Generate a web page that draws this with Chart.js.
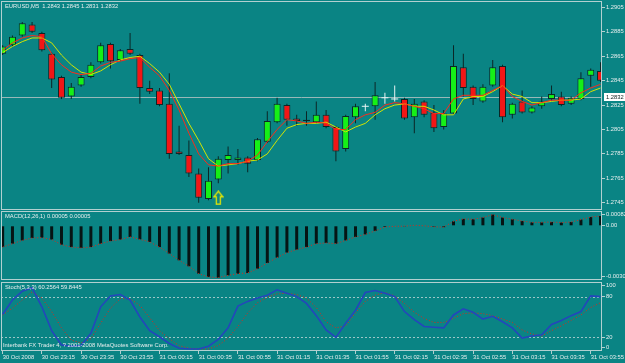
<!DOCTYPE html>
<html>
<head>
<meta charset="utf-8">
<script src="https://cdn.jsdelivr.net/npm/chart.js@4.4.1/dist/chart.umd.min.js"></script>
<style>
    html, body { margin: 0; padding: 0; background: #0a8484; overflow: hidden; width: 625px; height: 363px; }
    .panel { position: absolute; left: 0; }
    canvas { display: block; }
</style>
</head>
<body>
<div class="panel" style="top:0"><canvas id="priceChart" width="625" height="211"></canvas></div>
<div class="panel" style="top:210px"><canvas id="macdChart" width="625" height="71"></canvas></div>
<div class="panel" style="top:281px"><canvas id="stochChart" width="625" height="82"></canvas></div>
<script>
// EURUSD M5, 62 bars from 30 Oct 2008 22:55
const opens = [1.2867, 1.2874, 1.2882, 1.2891, 1.2884, 1.2867, 1.2848, 1.2832, 1.2841, 1.2848,
    1.2860, 1.2875, 1.2862, 1.2871, 1.2866, 1.2839, 1.2837, 1.2826, 1.2787, 1.2784,
    1.2769, 1.2748, 1.2764, 1.2780, 1.2780, 1.2782, 1.2780, 1.2795, 1.2811, 1.2825,
    1.2814, 1.2813, 1.2811, 1.2817, 1.2807, 1.2789, 1.2815, 1.2824, 1.2824, 1.2831,
    1.2830, 1.2830, 1.2815, 1.2828, 1.2819, 1.2807, 1.2818, 1.2856, 1.2840, 1.2828,
    1.2841, 1.2857, 1.2817, 1.2828, 1.2819, 1.2824, 1.2830, 1.2832, 1.2826, 1.2830,
    1.2849, 1.2853];
const highs = [1.2874, 1.2882, 1.2893, 1.2893, 1.2885, 1.2868, 1.2849, 1.2843, 1.2850, 1.2860,
    1.2876, 1.2876, 1.2871, 1.2884, 1.2867, 1.2845, 1.2839, 1.2851, 1.2808, 1.2796,
    1.2773, 1.2774, 1.2783, 1.2791, 1.2789, 1.2783, 1.2798, 1.2820, 1.2831, 1.2826,
    1.2817, 1.2820, 1.2828, 1.2821, 1.2808, 1.2817, 1.2826, 1.2826, 1.2844, 1.2835,
    1.2841, 1.2831, 1.2830, 1.2829, 1.2825, 1.2821, 1.2874, 1.2867, 1.2841, 1.2842,
    1.2862, 1.2858, 1.2827, 1.2837, 1.2824, 1.2832, 1.2841, 1.2836, 1.2832, 1.2852,
    1.2855, 1.2860];
const lows = [1.2866, 1.2873, 1.2881, 1.2884, 1.2869, 1.2839, 1.2830, 1.2830, 1.2840, 1.2847,
    1.2859, 1.2855, 1.2861, 1.2866, 1.2826, 1.2834, 1.2824, 1.2781, 1.2784, 1.2766,
    1.2745, 1.2747, 1.2761, 1.2769, 1.2776, 1.2770, 1.2779, 1.2794, 1.2810, 1.2808,
    1.2808, 1.2808, 1.2810, 1.2806, 1.2779, 1.2787, 1.2810, 1.2820, 1.2813, 1.2826,
    1.2828, 1.2813, 1.2802, 1.2815, 1.2803, 1.2805, 1.2817, 1.2832, 1.2825, 1.2827,
    1.2840, 1.2811, 1.2814, 1.2818, 1.2818, 1.2822, 1.2829, 1.2824, 1.2825, 1.2829,
    1.2840, 1.2844];
const closes = [1.2873, 1.2881, 1.2892, 1.2885, 1.2870, 1.2846, 1.2831, 1.2840, 1.2848, 1.2858,
    1.2874, 1.2861, 1.2870, 1.2867, 1.2839, 1.2836, 1.2825, 1.2785, 1.2785, 1.2769,
    1.2749, 1.2763, 1.2781, 1.2784, 1.2782, 1.2777, 1.2797, 1.2812, 1.2826, 1.2813,
    1.2812, 1.2812, 1.2817, 1.2807, 1.2787, 1.2816, 1.2824, 1.2824, 1.2833, 1.2831,
    1.2830, 1.2814, 1.2826, 1.2817, 1.2806, 1.2818, 1.2857, 1.2839, 1.2830, 1.2840,
    1.2856, 1.2815, 1.2826, 1.2819, 1.2823, 1.2828, 1.2834, 1.2825, 1.2831, 1.2847,
    1.2854, 1.2845];

// moving averages (red = fast, yellow = slow)
const maFast = [1.2870, 1.2876, 1.2880, 1.2882, 1.2881, 1.2867, 1.2858, 1.2852, 1.2850, 1.2851,
    1.2857, 1.2860, 1.2861, 1.2863, 1.2864, 1.2856, 1.2849, 1.2837, 1.2821, 1.2802,
    1.2785, 1.2776, 1.2775, 1.2777, 1.2777, 1.2779, 1.2784, 1.2795, 1.2805, 1.2813,
    1.2812, 1.2810, 1.2811, 1.2810, 1.2805, 1.2805, 1.2813, 1.2817, 1.2819, 1.2825,
    1.2827, 1.2826, 1.2824, 1.2822, 1.2818, 1.2818, 1.2830, 1.2833, 1.2833, 1.2833,
    1.2837, 1.2841, 1.2832, 1.2828, 1.2825, 1.2827, 1.2829, 1.2829, 1.2829, 1.2835,
    1.2839, 1.2842];
const maSlow = [1.2868, 1.2873, 1.2877, 1.2880, 1.2880, 1.2876, 1.2866, 1.2858, 1.2852, 1.2850,
    1.2853, 1.2858, 1.2862, 1.2864, 1.2865, 1.2859, 1.2852, 1.2842, 1.2826, 1.2810,
    1.2796, 1.2781, 1.2775, 1.2776, 1.2777, 1.2779, 1.2780, 1.2785, 1.2796, 1.2806,
    1.2809, 1.2810, 1.2810, 1.2811, 1.2807, 1.2803, 1.2807, 1.2810, 1.2817, 1.2822,
    1.2825, 1.2826, 1.2824, 1.2824, 1.2821, 1.2817, 1.2817, 1.2830, 1.2832, 1.2832,
    1.2836, 1.2841, 1.2834, 1.2832, 1.2827, 1.2827, 1.2828, 1.2829, 1.2829, 1.2830,
    1.2836, 1.2839];

// MACD(12,26,1): signal period 1, so the dotted signal runs through the bar tips
const macdMain = [-0.00124, -0.00104, -0.00085, -0.00071, -0.00069, -0.00080, -0.00110, -0.00124, -0.00129, -0.00124,
    -0.00104, -0.00089, -0.00080, -0.00065, -0.00079, -0.00094, -0.00124, -0.00162, -0.00201, -0.00236,
    -0.00279, -0.00298, -0.00302, -0.00289, -0.00279, -0.00275, -0.00250, -0.00217, -0.00185, -0.00156,
    -0.00139, -0.00124, -0.00104, -0.00100, -0.00104, -0.00085, -0.00065, -0.00050, -0.00030, -0.00007,
    -0.00003, -0.00002, 0.00003, 0.00000, -0.00006, -0.00008, 0.00026, 0.00040, 0.00038, 0.00048,
    0.00065, 0.00048, 0.00038, 0.00028, 0.00020, 0.00020, 0.00022, 0.00019, 0.00022, 0.00036,
    0.00051, 0.00057];

// Stoch(5,3,3)
const stochMain = [54, 75, 88, 93, 65, 30, 9, 7, 8, 26,
    65, 81, 83, 75, 50, 30, 21, 11, 4, 3,
    3, 7, 17, 34, 66, 73, 78, 82, 90, 85,
    80, 70, 52, 31, 20, 41, 60, 86, 89, 85,
    80, 58, 46, 36, 35, 34, 53, 62, 57, 47,
    51, 43, 34, 19, 22, 24, 39, 45, 52, 58,
    81, 80];
const stochSignal = [53, 63, 75, 87, 78, 58, 34, 16, 12, 18,
    41, 63, 77, 77, 67, 49, 30, 18, 8, 4,
    3, 3, 8, 19, 36, 56, 71, 79, 84, 85,
    83, 78, 64, 43, 34, 37, 56, 73, 82, 86,
    81, 70, 57, 48, 42, 42, 48, 55, 56, 55,
    52, 47, 42, 31, 25, 22, 30, 37, 45, 53,
    64, 71];

// one time label every 4 bars, starting with bar 1
const timeLabels = ['30 Oct 2008', '30 Oct 23:15', '30 Oct 23:35', '30 Oct 23:55',
    '31 Oct 00:15', '31 Oct 00:35', '31 Oct 00:55', '31 Oct 01:15',
    '31 Oct 01:35', '31 Oct 01:55', '31 Oct 02:15', '31 Oct 02:35',
    '31 Oct 02:55', '31 Oct 03:15', '31 Oct 03:35', '31 Oct 03:55'];
const priceTicks = [1.2905, 1.2885, 1.2865, 1.2845, 1.2825, 1.2805, 1.2785, 1.2765, 1.2745];
const macdTicks = [0.00082, 0, -0.00302];
const stochTicks = [100, 80, 20, 0];
const stochLevels = [80, 20];

const signalBars = [23];
const signalPrices = [1.2749];
const bidPrice = 1.2832;

const headerText = 'EURUSD,M5  1.2843 1.2845 1.2831 1.2832';
const macdText = 'MACD(12,26,1) 0.00005 0.00005';
const stochText = 'Stoch(5,3,3) 60.2564 59.8445';
const footerText = 'Interbank FX Trader 4, ? 2001-2008 MetaQuotes Software Corp.';

//Cores
const colorFrame = '#b2d0d0';
const colorText = '#e6eeee';
const colorBull = '#16f016';
const colorBear = '#f21616';
const colorShadow = '#0c2626';
const colorDoji = '#e8f4f4';
const colorFast = '#ff2a1a';
const colorSlow = '#d4e400';
const colorArrow = '#e8e800';

Chart.defaults.font.family = "'Liberation Sans', Arial, sans-serif";
Chart.defaults.font.size = 5.8;
Chart.defaults.animation = false;

const bars = opens.map((o, i) => i + 1);
const isDoji = (i) => opens[i] === closes[i];
const xMin = 0.83;
const xMax = 62.15;
const tickFont = { size: 5.8 };

// no automatic label padding: panels keep their exact pixel heights
const noPadding = (s) => {
    s.paddingTop = 0; s.paddingBottom = 0; s.paddingLeft = 0; s.paddingRight = 0;
};

const xAxis = (show) => ({
    type: 'linear', min: xMin, max: xMax, offset: false, display: show,
    grid: { drawOnChartArea: false, drawTicks: true, tickLength: 3, color: colorFrame, offset: false },
    border: { display: false },
    ticks: {
        autoSkip: false, maxRotation: 0, align: 'start', padding: 0, color: colorText, font: tickFont,
        callback: (v, i) => timeLabels[i]
    },
    afterBuildTicks: (s) => { s.ticks = timeLabels.map((t, i) => ({ value: i * 4 + 1 })); },
    afterFit: (s) => { s.height = show ? 12 : 0; noPadding(s); }
});

// edge: like MT4, labels that fall on the panel border are pushed inside it
const yAxis = (min, max, tickValues, fmt, edge = 0) => ({
    type: 'linear', position: 'right', min: min, max: max,
    grid: { drawOnChartArea: false, drawTicks: true, tickLength: 3, color: colorFrame },
    border: { display: false },
    ticks: { autoSkip: false, color: colorText, font: tickFont, padding: 1,
        callback: (v, i) => fmt(tickValues[i]) },
    afterBuildTicks: (s) => {
        const m = (max - min) * edge;
        s.ticks = tickValues.map(v => ({ value: Math.min(max - m, Math.max(min + m, v)) }));
    },
    afterFit: (s) => { s.width = 23; noPadding(s); }
});

// frame, title texts and level lines of one MT4 panel
const panelPlugin = (title, footer, levels, bid) => ({
    id: 'panel',
    beforeDatasetsDraw(chart) {
        const { ctx, chartArea: a, scales } = chart;
        ctx.save();
        ctx.lineWidth = 1;
        if (levels) {
            ctx.strokeStyle = '#9cc6c6';
            ctx.setLineDash([2, 2]);
            levels.forEach(v => {
                const y = Math.round(scales.y.getPixelForValue(v)) + 0.5;
                ctx.beginPath(); ctx.moveTo(a.left, y); ctx.lineTo(a.right, y); ctx.stroke();
            });
        }
        if (bid) {
            ctx.strokeStyle = '#98b8b8';
            ctx.setLineDash([]);
            const y = Math.round(scales.y.getPixelForValue(bid)) + 0.5;
            ctx.beginPath(); ctx.moveTo(a.left, y); ctx.lineTo(a.right, y); ctx.stroke();
        }
        ctx.restore();
    },
    afterDraw(chart) {
        const { ctx, chartArea: a, scales } = chart;
        ctx.save();
        ctx.strokeStyle = colorFrame;
        ctx.lineWidth = 1;
        ctx.strokeRect(a.left + 0.5, a.top + 0.5, a.right - a.left - 1, a.bottom - a.top - 1);
        ctx.font = "5.8px 'Liberation Sans', Arial, sans-serif";
        ctx.fillStyle = colorText;
        ctx.textBaseline = 'middle';
        ctx.fillText(title, a.left + 4, a.top + 5.5);
        if (footer) {
            ctx.fillText(footer, a.left + 2, a.bottom - 5.5);
        }
        if (bid) {
            const y = Math.round(scales.y.getPixelForValue(bid));
            ctx.fillStyle = '#ffffff';
            ctx.fillRect(a.right + 2, y - 4, 30, 8);
            ctx.fillStyle = '#102020';
            ctx.fillText(bid.toFixed(4), a.right + 4, y + 0.5);
        }
        ctx.restore();
    }
});

// outlined up arrow used as point style
const arrowImg = document.createElement('canvas');
arrowImg.width = 11;
arrowImg.height = 15;
const g = arrowImg.getContext('2d');
g.strokeStyle = colorArrow;
g.lineWidth = 1.3;
g.beginPath();
g.moveTo(5.5, 1); g.lineTo(10, 6.5); g.lineTo(7.5, 6.5); g.lineTo(7.5, 14);
g.lineTo(3.5, 14); g.lineTo(3.5, 6.5); g.lineTo(1, 6.5); g.closePath();
g.stroke();

const Grafico = {
    Price: () => {
        const wicks = bars.map((x, i) => ({ x: x, y: [lows[i], highs[i]] }));
        const bodies = bars.filter((x, i) => !isDoji(i)).map(x => ({ x: x, y: [opens[x - 1], closes[x - 1]] }));
        const dojis = bars.filter((x, i) => isDoji(i)).map(x => ({ x: x, y: closes[x - 1] }));

        new Chart(document.getElementById('priceChart'), {
            type: 'bar',
            data: {
                datasets: [
                    { type: 'line', data: signalBars.map((x, i) => ({ x: x, y: signalPrices[i] })), showLine: false,
                      pointStyle: arrowImg, pointRadius: 7, order: 0 },
                    { type: 'line', data: bars.map((x, i) => ({ x: x, y: maFast[i] })), borderColor: colorFast,
                      borderWidth: 1, pointRadius: 0, order: 1 },
                    { type: 'line', data: bars.map((x, i) => ({ x: x, y: maSlow[i] })), borderColor: colorSlow,
                      borderWidth: 1, pointRadius: 0, order: 2 },
                    { type: 'line', data: dojis, showLine: false, pointStyle: 'line', pointRadius: 3.5,
                      borderColor: colorDoji, borderWidth: 1, order: 3 },
                    { data: bodies, grouped: false, barThickness: 7, borderWidth: 1, borderColor: colorShadow,
                      borderSkipped: false, inflateAmount: 0,
                      backgroundColor: (c) => c.raw && c.raw.y[1] > c.raw.y[0] ? colorBull : colorBear, order: 4 },
                    { data: wicks, grouped: false, barThickness: 1, borderWidth: 0, inflateAmount: 0,
                      backgroundColor: (c) => isDoji(c.dataIndex) ? colorDoji : colorShadow, order: 5 }
                ]
            },
            options: {
                responsive: false, devicePixelRatio: 1,
                layout: { padding: { top: 1, left: 1, bottom: 1, right: 0 }, autoPadding: false },
                plugins: { legend: { display: false }, tooltip: { enabled: false } },
                scales: {
                    x: xAxis(false),
                    y: yAxis(1.27390, 1.29103, priceTicks, v => v.toFixed(4))
                }
            },
            plugins: [panelPlugin(headerText, null, null, bidPrice)]
        });
    },
    Macd: () => {
        new Chart(document.getElementById('macdChart'), {
            type: 'bar',
            data: {
                datasets: [
                    { type: 'line', data: bars.map((x, i) => ({ x: x, y: macdMain[i] })), borderColor: '#e02818',
                      borderWidth: 1, borderDash: [1, 2], pointRadius: 0, order: 0 },
                    { data: bars.map((x, i) => ({ x: x, y: macdMain[i] })), grouped: false, barThickness: 3,
                      inflateAmount: 0, backgroundColor: '#061414', order: 1 }
                ]
            },
            options: {
                responsive: false, devicePixelRatio: 1,
                layout: { padding: { top: 1, left: 1, bottom: 1, right: 0 }, autoPadding: false },
                plugins: { legend: { display: false }, tooltip: { enabled: false } },
                scales: {
                    x: xAxis(false),
                    y: yAxis(-0.00316, 0.000863, macdTicks, v => v === 0 ? '0.00' : v.toFixed(5), 0.055)
                }
            },
            plugins: [panelPlugin(macdText, null, null, null)]
        });
    },
    Stoch: () => {
        new Chart(document.getElementById('stochChart'), {
            type: 'line',
            data: {
                datasets: [
                    { data: bars.map((x, i) => ({ x: x, y: stochMain[i] })), borderColor: '#2446bc',
                      borderWidth: 1.6, pointRadius: 0 },
                    { data: bars.map((x, i) => ({ x: x, y: stochSignal[i] })), borderColor: '#e02818',
                      borderWidth: 1, borderDash: [1, 2], pointRadius: 0 }
                ]
            },
            options: {
                responsive: false, devicePixelRatio: 1,
                layout: { padding: { top: 1, left: 1, bottom: 0, right: 0 }, autoPadding: false },
                plugins: { legend: { display: false }, tooltip: { enabled: false } },
                scales: {
                    x: xAxis(true),
                    y: yAxis(0, 101.5, stochTicks, v => String(v), 0.05)
                }
            },
            plugins: [panelPlugin(stochText, footerText, stochLevels, null)]
        });
    }
};

Grafico.Price();
Grafico.Macd();
Grafico.Stoch();
</script>
</body>
</html>
